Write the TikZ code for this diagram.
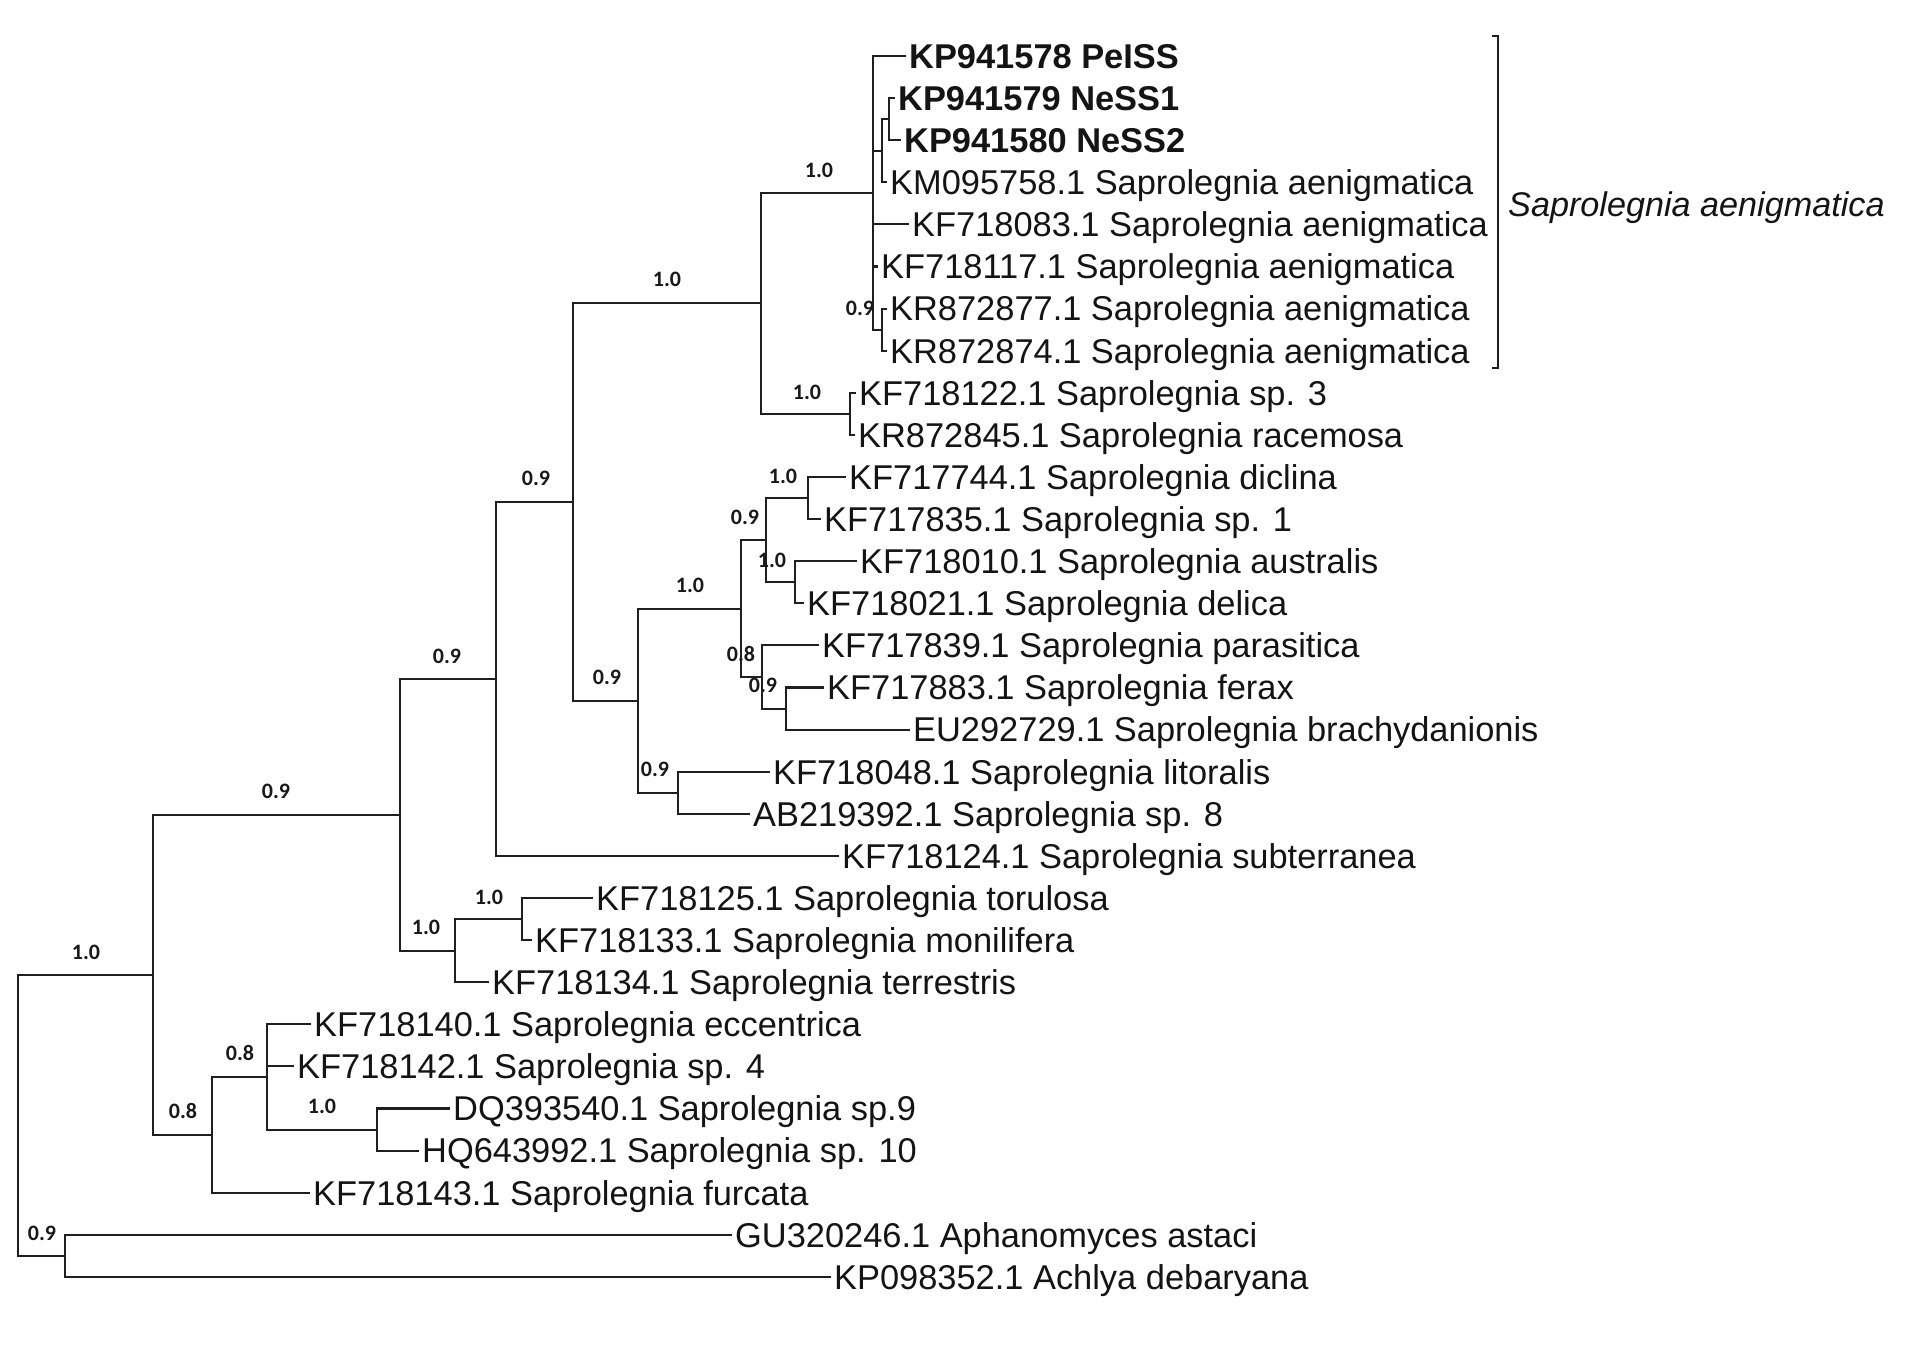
\documentclass[tikz,border=0pt]{standalone}
\usepackage{fontspec}
\setmainfont{Liberation Sans}
\newfontfamily\suppfont{Carlito}
\begin{document}
\begin{tikzpicture}[x=1pt,y=-1pt,
  br/.style={draw=black!88,line width=2.1pt,line join=miter},
  leaf/.style={anchor=west,inner xsep=3pt,inner ysep=0pt,text height=24.6pt,text depth=0pt,
    font=\fontsize{34.4pt}{40pt}\selectfont,text=black!92},
  bleaf/.style={leaf,font=\fontsize{34.4pt}{40pt}\selectfont\bfseries},
  supp/.style={inner sep=0pt,text height=14pt,text depth=0pt,
    font=\suppfont\bfseries\fontsize{22pt}{26pt}\selectfont,text=black!90}]
\useasboundingbox[fill=white] (0,0) rectangle (1905,1350);

% internal nodes
\coordinate (root) at (18,1115.3);
\coordinate (A) at (153,974.8);
\coordinate (B) at (400,814.8);
\coordinate (C) at (496,678.95);
\coordinate (D) at (573,502);
\coordinate (E) at (761,303.3);
\coordinate (F) at (873,192.8);
\coordinate (F2) at (882,150.7);
\coordinate (F4) at (889,119.15);
\coordinate (F3) at (882,329.65);
\coordinate (G) at (850,413.85);
\coordinate (H) at (638,700.7);
\coordinate (I) at (741,608.6);
\coordinate (J) at (766,540.15);
\coordinate (K) at (808,498.05);
\coordinate (L) at (795,582.25);
\coordinate (M) at (762,676.98);
\coordinate (N) at (786,708.55);
\coordinate (O) at (678,792.75);
\coordinate (P) at (455,950.6);
\coordinate (Q) at (522,919.05);
\coordinate (R) at (212,1134.8);
\coordinate (S) at (267,1076.9);
\coordinate (T) at (377,1129.55);
\coordinate (U) at (65,1255.85);

% leaves
\node[bleaf] (l1) at (906,56) {KP941578 PeISS};
\node[bleaf] (l2) at (895,98.1) {KP941579 NeSS1};
\node[bleaf] (l3) at (901,140.2) {KP941580 NeSS2};
\node[leaf] (l4) at (887,182.3) {KM095758.1 Saprolegnia aenigmatica};
\node[leaf] (l5) at (909,224.4) {KF718083.1 Saprolegnia aenigmatica};
\node[leaf] (l6) at (878,266.5) {KF718117.1 Saprolegnia aenigmatica};
\node[leaf] (l7) at (887,308.6) {KR872877.1 Saprolegnia aenigmatica};
\node[leaf] (l8) at (887,350.7) {KR872874.1 Saprolegnia aenigmatica};
\node[leaf] (l9) at (856,392.8) {KF718122.1 Saprolegnia sp. 3};
\node[leaf] (l10) at (855,434.9) {KR872845.1 Saprolegnia racemosa};
\node[leaf] (l11) at (846,477.0) {KF717744.1 Saprolegnia diclina};
\node[leaf] (l12) at (821,519.1) {KF717835.1 Saprolegnia sp. 1};
\node[leaf] (l13) at (857,561.2) {KF718010.1 Saprolegnia australis};
\node[leaf] (l14) at (804,603.3) {KF718021.1 Saprolegnia delica};
\node[leaf] (l15) at (819,645.4) {KF717839.1 Saprolegnia parasitica};
\node[leaf] (l16) at (824,687.5) {KF717883.1 Saprolegnia ferax};
\node[leaf] (l17) at (910,729.6) {EU292729.1 Saprolegnia brachydanionis};
\node[leaf] (l18) at (770,771.7) {KF718048.1 Saprolegnia litoralis};
\node[leaf] (l19) at (750,813.8) {AB219392.1 Saprolegnia sp. 8};
\node[leaf] (l20) at (839,855.9) {KF718124.1 Saprolegnia subterranea};
\node[leaf] (l21) at (593,898.0) {KF718125.1 Saprolegnia torulosa};
\node[leaf] (l22) at (532,940.1) {KF718133.1 Saprolegnia monilifera};
\node[leaf] (l23) at (489,982.2) {KF718134.1 Saprolegnia terrestris};
\node[leaf] (l24) at (311,1024.3) {KF718140.1 Saprolegnia eccentrica};
\node[leaf] (l25) at (294,1066.4) {KF718142.1 Saprolegnia sp. 4};
\node[leaf] (l26) at (450,1108.5) {DQ393540.1 Saprolegnia sp.9};
\node[leaf] (l27) at (419,1150.6) {HQ643992.1 Saprolegnia sp. 10};
\node[leaf] (l28) at (310,1192.7) {KF718143.1 Saprolegnia furcata};
\node[leaf] (l29) at (732,1234.8) {GU320246.1 Aphanomyces astaci};
\node[leaf] (l30) at (831,1276.9) {KP098352.1 Achlya debaryana};

% branches
\draw[br] (root) |- (A); \draw[br] (root) |- (U);
\draw[br] (A) |- (B); \draw[br] (A) |- (R);
\draw[br] (B) |- (C); \draw[br] (B) |- (P);
\draw[br] (C) |- (D); \draw[br] (C) |- (l20.west);
\draw[br] (D) |- (E); \draw[br] (D) |- (H);
\draw[br] (E) |- (F); \draw[br] (E) |- (G);
\draw[br] (F) |- (l1.west); \draw[br] (F) |- (F2); \draw[br] (F) |- (l5.west);
\draw[br] (F) |- (l6.west); \draw[br] (F) |- (F3);
\draw[br] (F2) |- (F4); \draw[br] (F2) |- (l4.west);
\draw[br] (F4) |- (l2.west); \draw[br] (F4) |- (l3.west);
\draw[br] (F3) |- (l7.west); \draw[br] (F3) |- (l8.west);
\draw[br] (G) |- (l9.west); \draw[br] (G) |- (l10.west);
\draw[br] (H) |- (I); \draw[br] (H) |- (O);
\draw[br] (I) |- (J); \draw[br] (I) |- (M);
\draw[br] (J) |- (K); \draw[br] (J) |- (L);
\draw[br] (K) |- (l11.west); \draw[br] (K) |- (l12.west);
\draw[br] (L) |- (l13.west); \draw[br] (L) |- (l14.west);
\draw[br] (M) |- (l15.west); \draw[br] (M) |- (N);
\draw[br] (N) |- (l16.west); \draw[br] (N) |- (l17.west);
\draw[br] (O) |- (l18.west); \draw[br] (O) |- (l19.west);
\draw[br] (P) |- (Q); \draw[br] (P) |- (l23.west);
\draw[br] (Q) |- (l21.west); \draw[br] (Q) |- (l22.west);
\draw[br] (R) |- (S); \draw[br] (R) |- (l28.west);
\draw[br] (S) |- (l24.west); \draw[br] (S) |- (l25.west); \draw[br] (S) |- (T);
\draw[br] (T) |- (l26.west); \draw[br] (T) |- (l27.west);
\draw[br] (U) |- (l29.west); \draw[br] (U) |- (l30.west);

% support values
\node[supp] (sroot) at (86,952) {1.0};
\node[supp] (sB) at (276,791) {0.9};
\node[supp] (sC) at (447,656) {0.9};
\node[supp] (sD) at (536,478) {0.9};
\node[supp] (sE) at (667,279) {1.0};
\node[supp] (sF) at (819,170) {1.0};
\node[supp] (sG) at (807,392) {1.0};
\node[supp] (sF3) at (860,308) {0.9};
\node[supp] (sH) at (607,677) {0.9};
\node[supp] (sI) at (690,585) {1.0};
\node[supp] (sJ) at (745,517) {0.9};
\node[supp] (sK) at (783,476) {1.0};
\node[supp] (sL) at (772,560) {1.0};
\node[supp] (sM) at (741,654) {0.8};
\node[supp] (sN) at (763,685) {0.9};
\node[supp] (sO) at (655,769) {0.9};
\node[supp] (sP) at (426,927) {1.0};
\node[supp] (sQ) at (489,897) {1.0};
\node[supp] (sR) at (183,1111) {0.8};
\node[supp] (sS) at (240,1053) {0.8};
\node[supp] (sT) at (322,1106) {1.0};
\node[supp] (sU) at (42,1233) {0.9};

% clade bracket
\coordinate (bt1) at (1492,36);
\coordinate (bt) at (1498,36);
\coordinate (bb) at (1498,368);
\coordinate (bb1) at (1492,368);
\draw[br,line width=1.8pt] (bt1) -- (bt) -- (bb) -- (bb1);
\node[leaf,inner xsep=0pt,font=\fontsize{34.2pt}{40pt}\selectfont\itshape] (clade) at (1508,204) {Saprolegnia aenigmatica};
\end{tikzpicture}
\end{document}
